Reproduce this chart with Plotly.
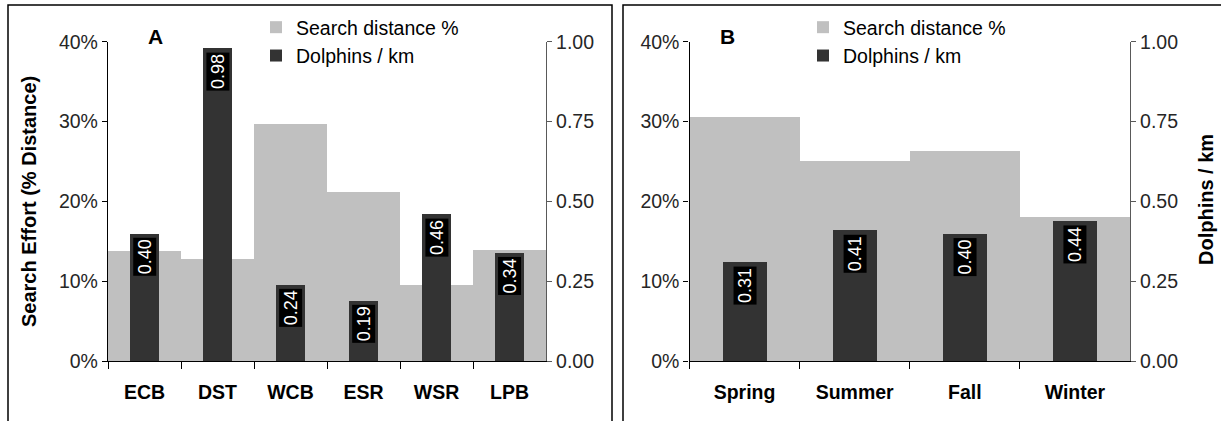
import plotly.graph_objects as go

# ---- data ----
regions = ["ECB", "DST", "WCB", "ESR", "WSR", "LPB"]
region_search_pct = [0.138, 0.128, 0.297, 0.212, 0.095, 0.139]
region_dolphins_km = [0.40, 0.98, 0.24, 0.19, 0.46, 0.34]

seasons = ["Spring", "Summer", "Fall", "Winter"]
season_search_pct = [0.306, 0.251, 0.264, 0.181]
season_dolphins_km = [0.31, 0.41, 0.40, 0.44]

pct_ticks = [0, 0.1, 0.2, 0.3, 0.4]
dens_ticks = [0, 0.25, 0.5, 0.75, 1.0]

W, H = 1221, 421
LIGHT = "#c0c0c0"
DARK = "#333333"
FONT = "Liberation Sans, Arial, sans-serif"

fig = go.Figure()

# Panel A
fig.add_trace(go.Bar(x=regions, y=region_search_pct, width=1.0, marker_color=LIGHT,
                     marker_line_width=0, name="Search distance %",
                     xaxis="x", yaxis="y", legend="legend", legendgroup="a1"))
fig.add_trace(go.Bar(x=regions, y=region_dolphins_km, width=0.4, marker_color=DARK,
                     marker_line_width=0, name="Dolphins / km",
                     xaxis="x", yaxis="y2", legend="legend", legendgroup="a2"))
# Panel B
fig.add_trace(go.Bar(x=seasons, y=season_search_pct, width=1.0, marker_color=LIGHT,
                     marker_line_width=0, name="Search distance %",
                     xaxis="x2", yaxis="y3", legend="legend2", legendgroup="b1"))
fig.add_trace(go.Bar(x=seasons, y=season_dolphins_km, width=0.4, marker_color=DARK,
                     marker_line_width=0, name="Dolphins / km",
                     xaxis="x2", yaxis="y4", legend="legend2", legendgroup="b2"))

# value labels
for cats, vals, yref in [(regions, region_dolphins_km, "y2"), (seasons, season_dolphins_km, "y4")]:
    xref = "x" if yref == "y2" else "x2"
    for c, v in zip(cats, vals):
        fig.add_annotation(x=c, y=v, xref=xref, yref=yref, text=f"{v:.2f}",
                           textangle=-90, showarrow=False, xanchor="center",
                           yanchor="top", yshift=-4,
                           bgcolor="#000000", borderpad=1,
                           font=dict(family=FONT, size=18, color="white"))

xA = [108 / W, 546 / W]
xB = [689.5 / W, 1130 / W]
yD = [1 - 361 / H, 1 - 41.7 / H]

TS = 19.5
tickfont = dict(family=FONT, size=TS, color="#262626")
catfont = dict(family=FONT, size=TS, color="#000000", weight="bold")
titlefont = dict(family=FONT, size=20, color="black", weight="bold")

def xax(domain, anchor):
    return dict(domain=domain, anchor=anchor, type="category", showline=True,
                linecolor="black", linewidth=1.3, ticks="outside", tickson="boundaries",
                ticklen=7, tickcolor="black", tickwidth=1.3, tickfont=catfont,
                ticklabelstandoff=13,
                showgrid=False, zeroline=False, automargin=False, fixedrange=True)

def yleft(anchor):
    return dict(domain=yD, anchor=anchor, range=[0, 0.4], tickvals=pct_ticks, tickformat=".0%",
                showline=True, linecolor="black", linewidth=1.3, ticks="outside", ticklen=5,
                tickcolor="black", tickwidth=1.3, tickfont=tickfont, showgrid=False,
                zeroline=False, automargin=False, fixedrange=True)

def yright(overlay, anchor):
    return dict(overlaying=overlay, anchor=anchor, side="right", range=[0, 1.0],
                tickvals=dens_ticks, tickformat=".2f", showline=True, linecolor="#595959",
                linewidth=1.3, ticks="outside", ticklen=5, tickcolor="#595959", tickwidth=1.3,
                tickfont=tickfont, showgrid=False, zeroline=False, automargin=False,
                fixedrange=True)

legfont = dict(family=FONT, size=TS, color="#000000")

fig.update_layout(
    width=W, height=H, margin=dict(l=0, r=0, t=0, b=0),
    paper_bgcolor="white", plot_bgcolor="rgba(0,0,0,0)",
    barmode="overlay", bargap=0,
    font=dict(family=FONT),
    xaxis=xax(xA, "y"),
    yaxis=yleft("x"),
    yaxis2=yright("y", "x"),
    xaxis2=xax(xB, "y3"),
    yaxis3=yleft("x2"),
    yaxis4=yright("y3", "x2"),
    legend=dict(x=256 / W, y=1 - 8 / H, xanchor="left", yanchor="top",
                bgcolor="rgba(0,0,0,0)", font=legfont, tracegroupgap=7,
                traceorder="normal", itemclick=False),
    legend2=dict(x=803 / W, y=1 - 8 / H, xanchor="left", yanchor="top",
                 bgcolor="rgba(0,0,0,0)", font=legfont, tracegroupgap=7,
                 traceorder="normal", itemclick=False),
    shapes=[
        dict(type="rect", xref="paper", yref="paper", x0=8 / W, x1=612 / W,
             y0=-0.1, y1=1 - 5 / H, line=dict(color="black", width=1.5), layer="below"),
        dict(type="rect", xref="paper", yref="paper", x0=623 / W, x1=1.1,
             y0=-0.1, y1=1 - 5 / H, line=dict(color="black", width=1.5), layer="below"),
    ],
)

# axis titles
fig.add_annotation(text="Search Effort (% Distance)", x=29 / W, y=1 - 202 / H,
                   xref="paper", yref="paper", xanchor="center", yanchor="middle",
                   textangle=-90, showarrow=False, font=titlefont)
fig.add_annotation(text="Dolphins / km", x=1206 / W, y=1 - 200 / H,
                   xref="paper", yref="paper", xanchor="center", yanchor="middle",
                   textangle=-90, showarrow=False, font=titlefont)

# panel letters
fig.add_annotation(text="<b>A</b>", x=155 / W, y=1 - 37 / H, xref="paper", yref="paper",
                   xanchor="center", yanchor="middle",
                   showarrow=False, font=dict(family=FONT, size=21, color="black"))
fig.add_annotation(text="<b>B</b>", x=727 / W, y=1 - 37 / H, xref="paper", yref="paper",
                   xanchor="center", yanchor="middle",
                   showarrow=False, font=dict(family=FONT, size=21, color="black"))

fig.write_html("out.html", config={"displayModeBar": False},
               post_script="document.body.style.margin='0';")
